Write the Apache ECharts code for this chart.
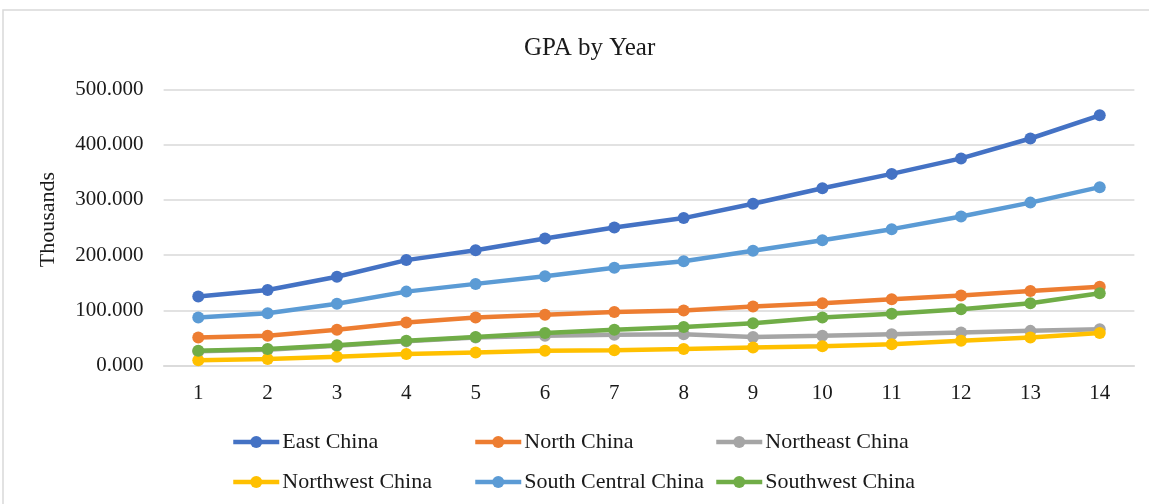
<!DOCTYPE html>
<html>
<head>
<meta charset="utf-8">
<script src="https://cdn.jsdelivr.net/npm/echarts@6/dist/echarts.min.js"></script>
<style>
  html, body { margin: 0; padding: 0; background: #ffffff; }
  #chart { width: 1149px; height: 504px; }
</style>
</head>
<body>
<div id="chart"></div>
<script>
// Years 1..14 along the category axis
const years = ['1', '2', '3', '4', '5', '6', '7', '8', '9', '10', '11', '12', '13', '14'];

// GPA per region, in thousands
const eastChina         = [125, 137, 161, 191, 209, 230, 250, 267, 293, 321, 347, 375, 411, 453];
const northChina        = [51, 54, 65, 78, 87, 92, 97, 100, 107, 113, 120, 127, 135, 143];
const northeastChina    = [26, 29, 36, 44, 51, 54, 56, 57, 52, 54, 57, 60, 63, 66];
const northwestChina    = [10, 12, 16, 21, 24, 27, 28, 30, 33, 35, 39, 45, 51, 59];
const southCentralChina = [87, 95, 112, 134, 148, 162, 177, 189, 208, 227, 247, 270, 295, 323];
const southwestChina    = [27, 30, 37, 45, 52, 59, 65, 70, 77, 87, 94, 102, 113, 131];

const seriesNames = ['East China', 'North China', 'Northeast China',
                     'Northwest China', 'South Central China', 'Southwest China'];
const seriesData = [eastChina, northChina, northeastChina,
                    northwestChina, southCentralChina, southwestChina];
const seriesColors = ['#4472C4', '#ED7D31', '#A5A5A5', '#FFC000', '#5B9BD5', '#70AD47'];

const serif = '"Liberation Serif", "DejaVu Serif", serif';
const textColor = '#1a1a1a';

// Legend laid out as a 3x2 grid: one legend component per entry
const legendColumns = [226, 468, 709];
const legendRows = [426, 466];
const legends = seriesNames.map((name, i) => ({
  data: [name],
  left: legendColumns[i % 3],
  top: legendRows[Math.floor(i / 3)],
  itemWidth: 46,
  itemHeight: 15,
  itemGap: 0,
  lineStyle: { width: 4.5 },
  textStyle: { fontFamily: serif, fontSize: 22, color: textColor, padding: [0, 0, 0, -2] }
}));

const chart = echarts.init(document.getElementById('chart'), null, { renderer: 'canvas' });

chart.setOption({
  animation: false,
  backgroundColor: '#ffffff',
  graphic: [{
    type: 'rect',
    shape: { x: 3, y: 10, width: 1200, height: 560 },
    style: { fill: 'none', stroke: '#D9D9D9', lineWidth: 1.5 },
    silent: true,
    z: -1
  }],
  title: {
    text: 'GPA by Year',
    left: 519,
    top: 31,
    textStyle: { fontFamily: serif, fontSize: 25, fontWeight: 'normal', color: textColor }
  },
  legend: legends,
  grid: {
    left: 163.6,
    right: 14.6,
    top: 89.3,
    bottom: 138.3,
    containLabel: false
  },
  xAxis: {
    type: 'category',
    data: years,
    boundaryGap: true,
    axisLine: { show: true, lineStyle: { color: '#D9D9D9', width: 1.5 } },
    axisTick: { show: false },
    axisLabel: { fontFamily: serif, fontSize: 21, color: textColor, margin: 17 }
  },
  yAxis: {
    type: 'value',
    min: 0,
    max: 500,
    interval: 100,
    name: 'Thousands',
    nameLocation: 'middle',
    nameRotate: 90,
    nameGap: 104,
    nameTextStyle: { fontFamily: serif, fontSize: 22, color: textColor, padding: [0, 0, 0, 16] },
    axisLine: { show: false },
    axisTick: { show: false },
    splitLine: { lineStyle: { color: '#D9D9D9', width: 1.5 } },
    axisLabel: {
      fontFamily: serif,
      fontSize: 21,
      color: textColor,
      margin: 20,
      formatter: v => v.toFixed(3)
    }
  },
  series: seriesNames.map((name, i) => ({
    name: name,
    type: 'line',
    data: seriesData[i],
    color: seriesColors[i],
    symbol: 'circle',
    symbolSize: 12,
    showSymbol: true,
    lineStyle: { width: 4.5, color: seriesColors[i] },
    itemStyle: { color: seriesColors[i] },
    z: 2 + i
  }))
});
</script>
</body>
</html>
